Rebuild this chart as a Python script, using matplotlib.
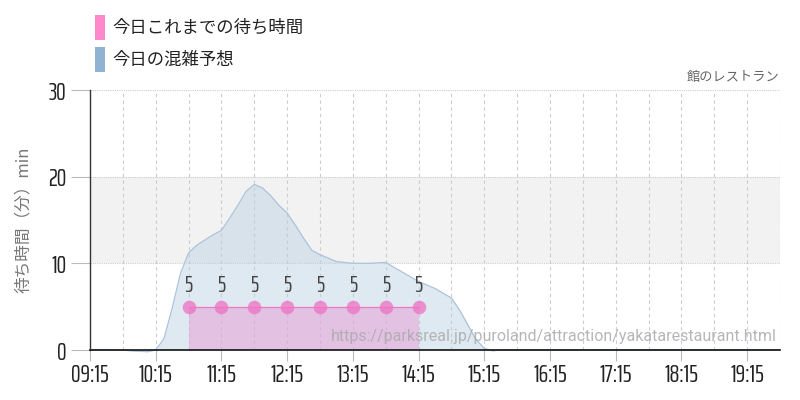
import matplotlib
matplotlib.use("Agg")
import matplotlib.pyplot as plt
import numpy as np

plt.rcParams['font.family'] = ['Noto Sans CJK JP', 'DejaVu Sans']
NUM_FONT = ["Saira ExtraCondensed", "Roboto Condensed", "DejaVu Sans"]

# forecast curve
fc_times = ["09:15", "09:30", "09:45", "09:52.5", "10:00", "10:07.5", "10:15", "10:22.5", "10:30", "10:37.5",
            "10:45", "10:52.5", "11:00", "11:07.5", "11:15", "11:22.5", "11:30", "11:37.5", "11:45", "11:52.5",
            "12:00", "12:07.5", "12:15", "12:22.5", "12:30", "12:37.5", "12:45", "12:52.5", "13:00", "13:15",
            "13:30", "13:45", "14:00", "14:15", "14:30", "14:45", "14:52.5", "15:00", "15:07.5", "15:15",
            "15:22.5", "15:30", "16:00", "17:00", "18:00", "19:00", "19:45"]
fc_values = [0.05, 0.05, 0.0, -0.1, -0.15, -0.2, 0.0, 1.3, 4.8, 8.8,
             11.2, 12.1, 12.7, 13.3, 13.8, 15.2, 16.7, 18.3, 19.1, 18.7,
             17.8, 16.7, 15.8, 14.4, 12.9, 11.5, 11.0, 10.6, 10.2, 10.0,
             10.0, 10.1, 9.0, 7.9, 7.1, 6.0, 4.6, 2.9, 1.2, 0.2,
             -0.1, 0.0, 0.0, 0.0, 0.0, 0.0, 0.0]

# actual waits so far
act_times = ["10:45", "11:15", "11:45", "12:15", "12:45", "13:15", "13:45", "14:15"]
act_values = [5, 5, 5, 5, 5, 5, 5, 5]

tick_labels = ["09:15", "10:15", "11:15", "12:15", "13:15", "14:15", "15:15", "16:15", "17:15", "18:15", "19:15"]
y_ticks = [0, 10, 20, 30]

def tm(s):
    h, m = s.split(":")
    return int(h) + float(m) / 60.0

fx = np.array([tm(t) for t in fc_times])
fy = np.array(fc_values)
axx = np.array([tm(t) for t in act_times])
ay = np.array(act_values)

fig = plt.figure(figsize=(8, 4), dpi=100)
ax = fig.add_axes([0.1125, 0.125, 0.8625, 0.65])
x0, x1 = tm("09:15"), tm("19:45")
ax.set_xlim(x0, x1)
ax.set_ylim(0, 30)

ax.axhspan(10, 20, color="#f2f2f2", zorder=0, lw=0)
for y in [10, 20, 30]:
    ax.axhline(y, color="#cccccc", lw=0.8, ls=(0, (1, 1)), zorder=1)
for x in np.arange(x0 + 0.5, x1 + 0.01, 0.5):
    ax.axvline(x, color="#cccccc", lw=0.8, ls=(0, (3, 3)), zorder=1)

ax.fill_between(fx, fy, 0, color="#b9cfe3", alpha=0.45, lw=0, zorder=2, clip_on=False)
ax.plot(fx, fy, color="#a9c3da", lw=0.9, zorder=3, clip_on=False)

ax.fill_between(axx, ay, 0, color="#e8a0d8", alpha=0.55, lw=0, zorder=4)
ax.plot(axx, ay, color="#ee77c4", lw=0.9, zorder=5)
ax.scatter(axx, ay, s=95, color="#ee77c4", alpha=0.8, zorder=6, lw=0)
for x, y in zip(axx, ay):
    ax.text(x, y + 1.2, str(y), ha="center", va="bottom", fontsize=16.5, color="#444444",
            family=NUM_FONT, fontweight=400, zorder=7)

ax.set_xticks([tm(t) for t in tick_labels])
ax.set_xticklabels(tick_labels, family=NUM_FONT, fontsize=17.5, color="#222222", fontweight=400)
ax.set_yticks(y_ticks)
ax.set_yticklabels([str(v) for v in y_ticks], family=NUM_FONT, fontsize=17.5, color="#222222", fontweight=400)
ax.tick_params(axis="x", length=8, color="#bbbbbb", pad=1)
ax.tick_params(axis="y", length=14, color="#bbbbbb", pad=3)

for s in ["top", "right"]:
    ax.spines[s].set_visible(False)
ax.spines["left"].set_color("#333333")
ax.spines["left"].set_linewidth(1)
ax.spines["bottom"].set_color("#111111")
ax.spines["bottom"].set_linewidth(1.2)
ax.spines["bottom"].set_zorder(8)

ax.set_ylabel("待ち時間（分）min", color="#777777", fontsize=12, labelpad=12)

fig.text(0.975, 0.805, "館のレストラン", ha="right", va="center", fontsize=9.5, color="#666666")
ax.text(0.995, 0.05, "https://parksreal.jp/puroland/attraction/yakatarestaurant.html", transform=ax.transAxes,
        ha="right", va="center", fontsize=11.5, color="#aaaaaa", alpha=0.85, zorder=8,
        family=["Roboto", "DejaVu Sans"])

fig.patches.append(plt.Rectangle((95 / 800, 1 - 40 / 400), 10 / 800, 25 / 400, transform=fig.transFigure,
                                 color="#ff88cc", lw=0))
fig.patches.append(plt.Rectangle((95 / 800, 1 - 72 / 400), 10 / 800, 25 / 400, transform=fig.transFigure,
                                 color="#8fb3d0", lw=0))
fig.text(112 / 800, 1 - 28 / 400, "今日これまでの待ち時間", ha="left", va="center", fontsize=12.5, color="#222222")
fig.text(112 / 800, 1 - 60 / 400, "今日の混雑予想", ha="left", va="center", fontsize=12.5, color="#222222")

fig.savefig("out.png", dpi=100)
